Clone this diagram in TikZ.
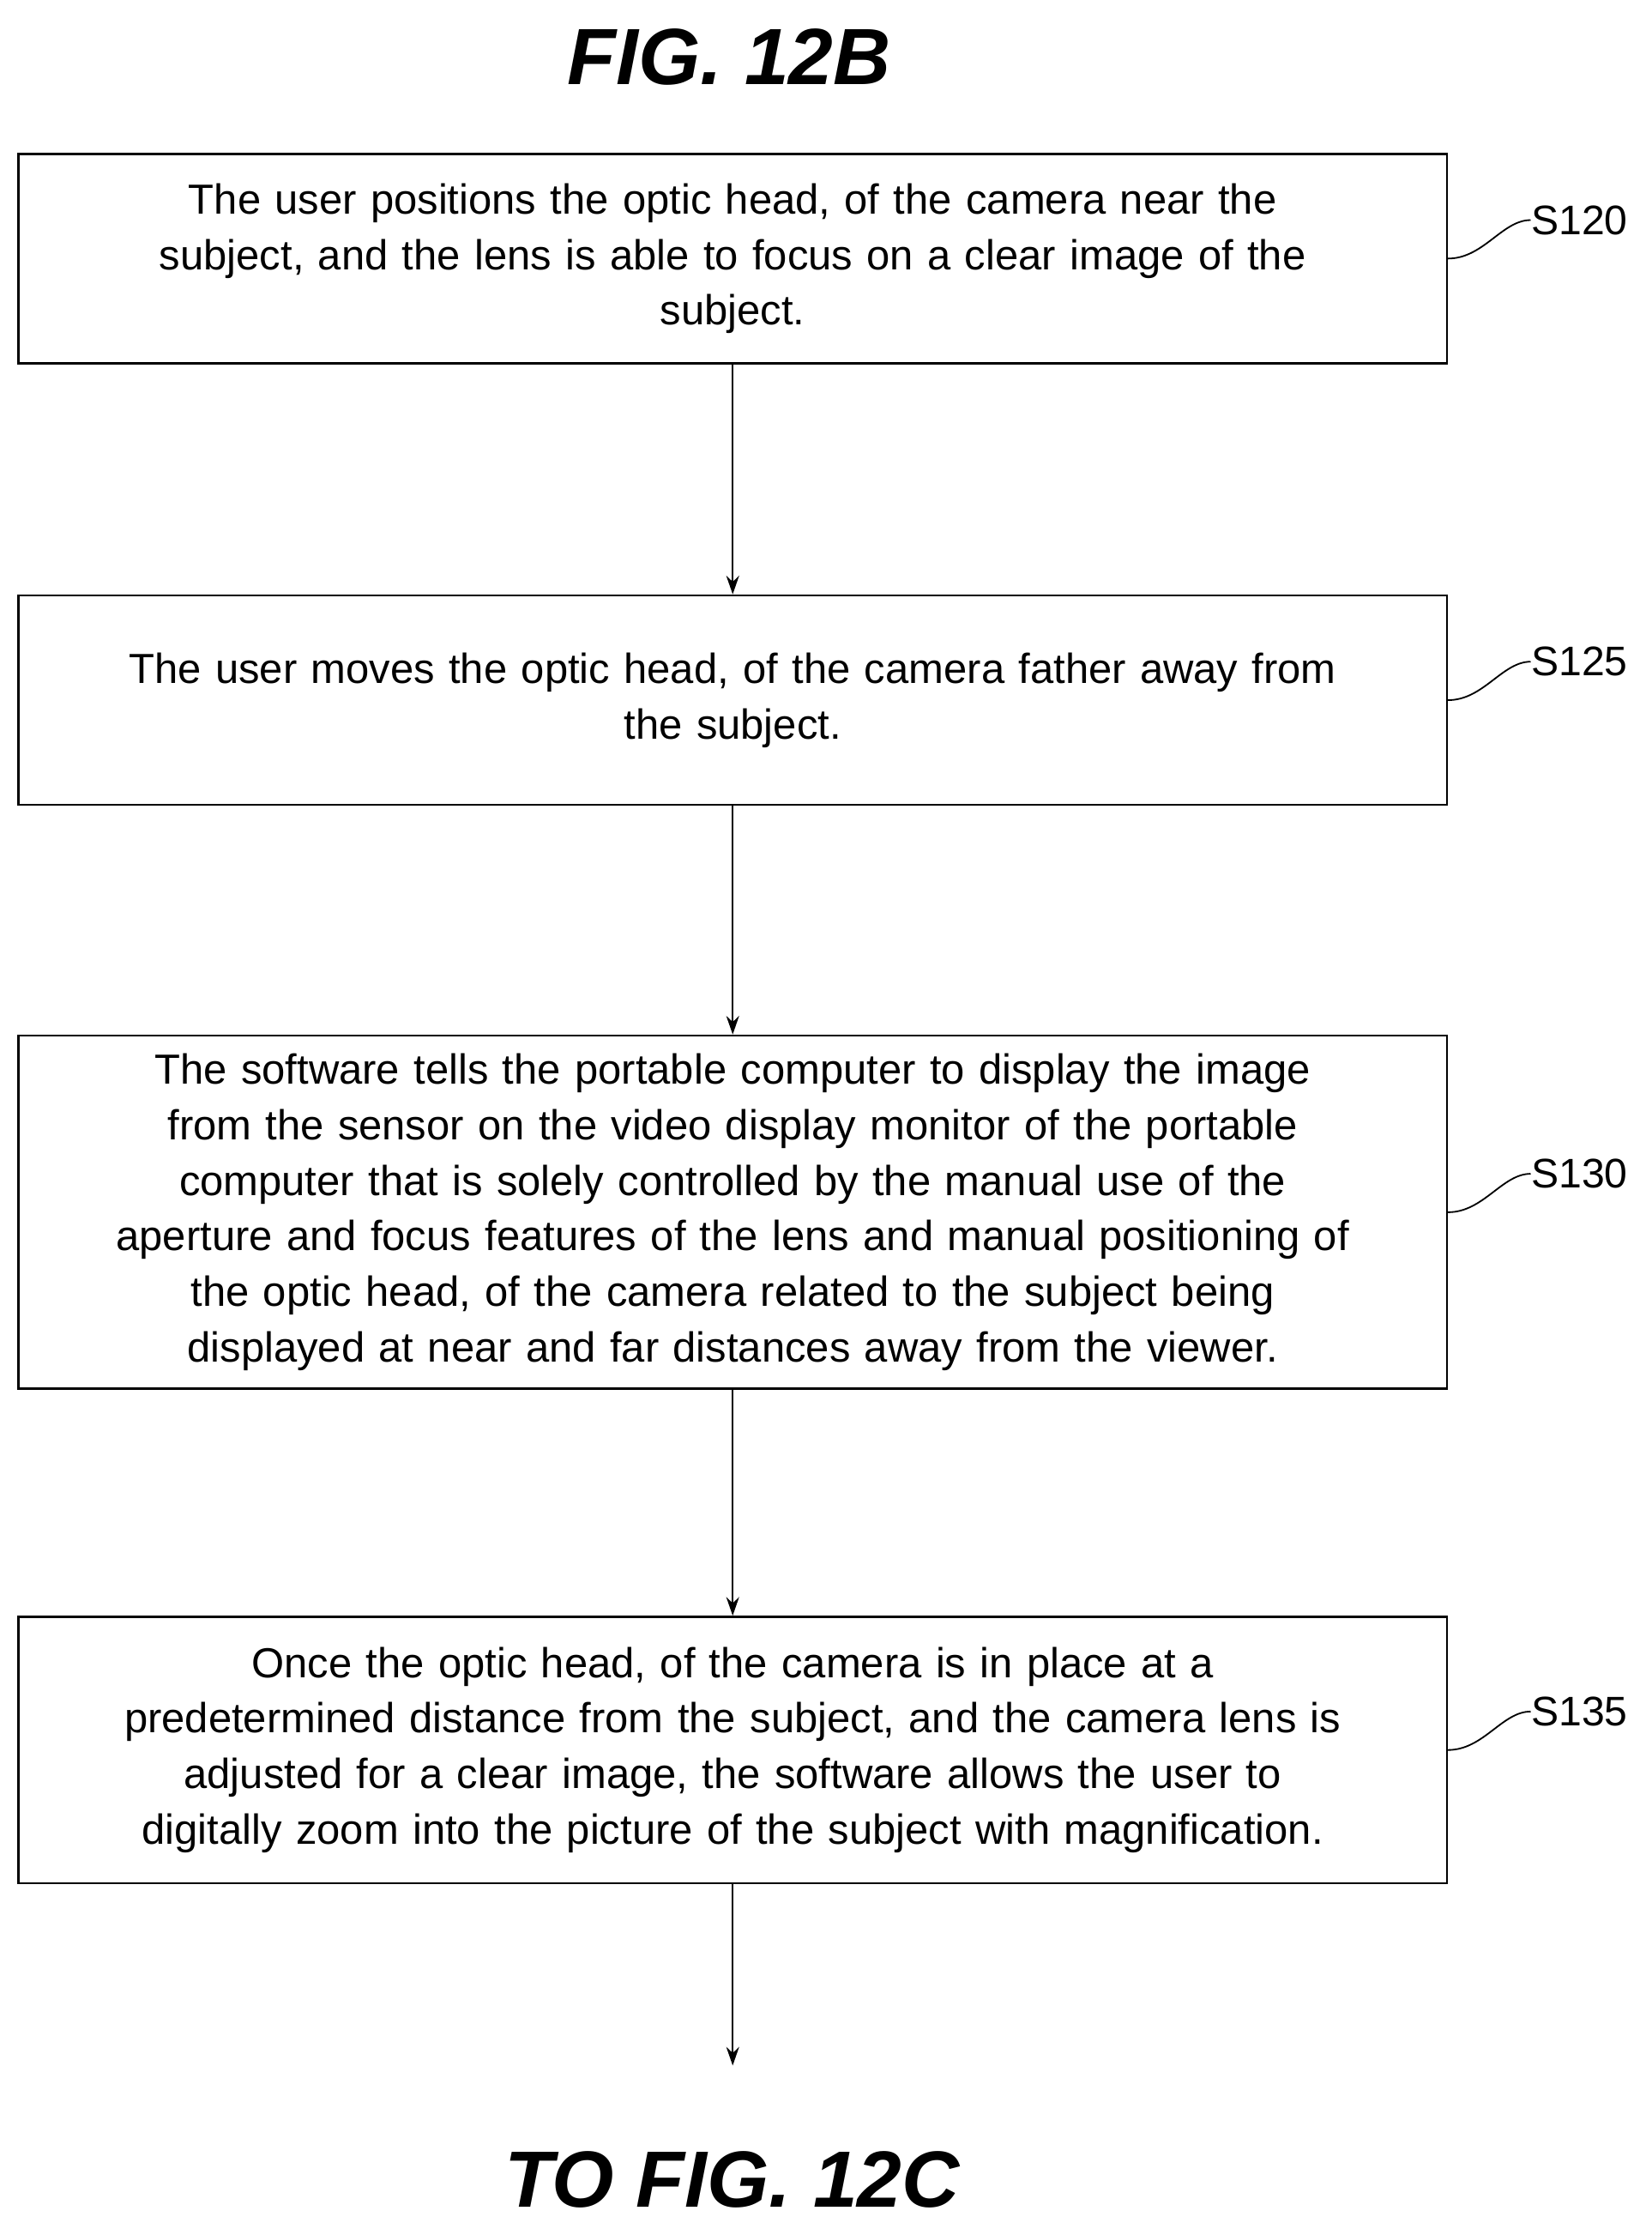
\documentclass[tikz,border=0pt]{standalone}
\usepackage{fontspec}
\setmainfont{Liberation Sans}
\usetikzlibrary{positioning,arrows.meta}

\begin{document}
\begin{tikzpicture}[x=1pt, y=-1pt, thick,
    box/.style = {draw, line width=1.6pt, minimum width=1003pt, text width=990pt, align=center, font=\fontsize{29.5}{39}\selectfont, inner sep=0pt},
    tag/.style = {font=\fontsize{29}{32}\selectfont, anchor=west, inner sep=0pt},
    fig/.style = {font=\fontsize{56}{60}\selectfont\bfseries\itshape},
    link/.style = {-{Stealth[length=13pt,width=9pt]}, line width=1.3pt}]
        \useasboundingbox (0,0) rectangle (1160,1569);
        \node[fig] (T) at (512,40) {FIG. 12B};
        \node[box, minimum height=147pt] (A) at (514.5,181.5) {The user positions the optic head, of the camera near the\\ subject, and the lens is able to focus on a clear image of the\\ subject.};
        \node[box, minimum height=147pt] (B) at (514.5,491.5) {The user moves the optic head, of the camera father away from\\ the subject.};
        \node[box, minimum height=248pt] (C) at (514.5,851) {The software tells the portable computer to display the image\\ from the sensor on the video display monitor of the portable\\ computer that is solely controlled by the manual use of the\\ aperture and focus features of the lens and manual positioning of\\ the optic head, of the camera related to the subject being\\ displayed at near and far distances away from the viewer.};
        \node[box, minimum height=187pt] (D) at (514.5,1228.5) {Once the optic head, of the camera is in place at a\\ predetermined distance from the subject, and the camera lens is\\ adjusted for a clear image, the software allows the user to\\ digitally zoom into the picture of the subject with magnification.};
        \coordinate (E) at (514.5,1450);
        \node[fig] (F) at (514,1530) {TO FIG. 12C};

        \draw[link] (A) -- (B);
        \draw[link] (B) -- (C);
        \draw[link] (C) -- (D);
        \draw[link] (D) -- (E);

        \foreach \n/\s in {A/S120, B/S125, C/S130, D/S135} {
            \node[tag] (L\n) at ([xshift=58pt,yshift=27pt]\n.east) {\s};
            \draw[line width=1.1pt] (\n.east) .. controls +(25,0) and +(-20,0) .. (L\n.west);
        }
    \end{tikzpicture}
\end{document}
